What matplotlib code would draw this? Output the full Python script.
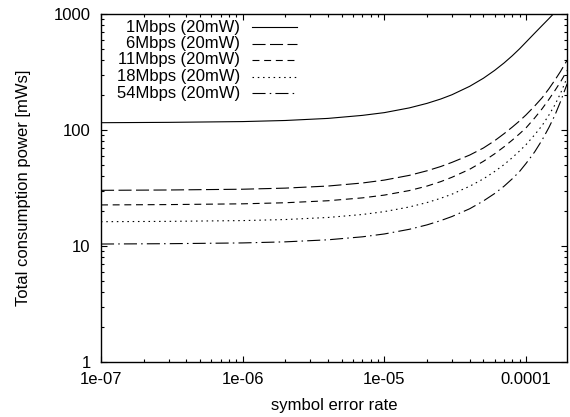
import numpy as np
import matplotlib
matplotlib.use("Agg")
import matplotlib.pyplot as plt
from matplotlib.ticker import FixedLocator, FixedFormatter, LogLocator, NullFormatter

plt.rcParams['font.family'] = ['Liberation Sans', 'DejaVu Sans']
plt.rcParams['lines.scale_dashes'] = False

# symbol error rate (x) and consumption power [mWs]
ser = [1e-7, 3e-7, 1e-6, 2e-6, 4e-6, 7e-6, 1e-5, 1.5e-5, 2e-5, 2.5e-5, 3e-5, 4e-5,
       5e-5, 6e-5, 7e-5, 8e-5, 9e-5, 1e-4, 1.15e-4, 1.3e-4, 1.45e-4, 1.6e-4, 1.75e-4, 1.95e-4]

p_1m = [115.6, 116.4, 118.2, 120.8, 125.9, 133.7, 141.2, 155.1, 169.7, 185.0, 201.4, 238.0,
        279.4, 326.4, 378.7, 436.9, 501.2, 572.5, 683.3, 796.8, 912.6, 1035.0, 1164.0, 1400.0]
p_6m = [30.2, 30.4, 30.87, 31.55, 32.88, 34.93, 37.0, 40.64, 44.51, 48.44, 52.6, 60.8,
        69.95, 80.8, 93.0, 106.0, 119.7, 135.0, 160.9, 190.0, 226.7, 269.8, 319.5, 400.0]
p_11m = [22.6, 22.75, 23.1, 23.6, 24.56, 26.0, 27.47, 30.05, 32.85, 35.89, 39.13, 45.87,
         53.67, 62.3, 71.7, 81.9, 92.8, 104.4, 126.9, 152.8, 183.6, 219.2, 259.6, 325.6]
p_18m = [16.2, 16.31, 16.56, 16.91, 17.62, 18.69, 19.79, 21.7, 23.69, 25.79, 27.97, 32.75,
         37.9, 43.86, 50.35, 57.8, 65.95, 74.8, 90.9, 109.5, 134.6, 164.9, 206.7, 283.1]
p_54m = [10.4, 10.47, 10.63, 10.86, 11.31, 12.0, 12.7, 13.93, 15.21, 16.56, 17.95, 20.94,
         24.45, 28.33, 32.78, 38.01, 43.9, 51.5, 64.7, 82.2, 105.1, 134.5, 175.5, 249.8]

labels = ["1Mbps (20mW)", "6Mbps (20mW)", "11Mbps (20mW)", "18Mbps (20mW)", "54Mbps (20mW)"]
series = [p_1m, p_6m, p_11m, p_18m, p_54m]
dashes = [None, (0, (9.4, 3.2)), (0, (5.0, 3.4)), (0, (1.1, 2.7)), (0, (9.4, 3.0, 1.1, 3.0))]

xticks = [1e-7, 1e-6, 1e-5, 1e-4]
xticklabels = ["1e-07", "1e-06", "1e-05", "0.0001"]
yticks = [1, 10, 100, 1000]
yticklabels = ["1", "10", "100", "1000"]

fig = plt.figure(figsize=(5.7, 4.17), dpi=100)
ax = fig.add_axes([0.1772, 0.1319, 0.8181, 0.8345])

for vals, ls in zip(series, dashes):
    ax.plot(ser, vals, color='black', lw=0.8, linestyle='-' if ls is None else ls)

ax.set_xscale('log')
ax.set_yscale('log')
ax.set_xlim(1e-7, 1.956e-4)
ax.set_ylim(1, 1000)

ax.xaxis.set_major_locator(FixedLocator(xticks))
ax.xaxis.set_major_formatter(FixedFormatter(xticklabels))
ax.yaxis.set_major_locator(FixedLocator(yticks))
ax.yaxis.set_major_formatter(FixedFormatter(yticklabels))
ax.xaxis.set_minor_locator(LogLocator(base=10, subs=np.arange(2, 10)))
ax.yaxis.set_minor_locator(LogLocator(base=10, subs=np.arange(2, 10)))
ax.xaxis.set_minor_formatter(NullFormatter())
ax.yaxis.set_minor_formatter(NullFormatter())

ax.tick_params(which='both', direction='in', top=True, right=True, width=0.8, labelsize=12)
ax.tick_params(which='major', length=4.5)
ax.tick_params(axis='x', which='major', pad=7)
ax.tick_params(axis='y', which='major', pad=7.5)
ax.tick_params(which='minor', length=2.3)
for sp in ax.spines.values():
    sp.set_linewidth(1.0)

ax.set_xlabel("symbol error rate", fontsize=12, labelpad=8)
ax.set_ylabel("Total consumption power [mWs]", fontsize=12, labelpad=16)

# gnuplot-style key: right-aligned text, sample line to the right
key_y = [0.9626, 0.915, 0.868, 0.820, 0.773]
for lab, ls, yy in zip(labels, dashes, key_y):
    ax.text(0.298, yy, lab, transform=ax.transAxes, ha='right', va='center', fontsize=12)
    ax.plot([0.324, 0.420], [yy, yy], transform=ax.transAxes, color='black', lw=0.8,
            linestyle='-' if ls is None else ls)

fig.savefig("out.png", dpi=100)
